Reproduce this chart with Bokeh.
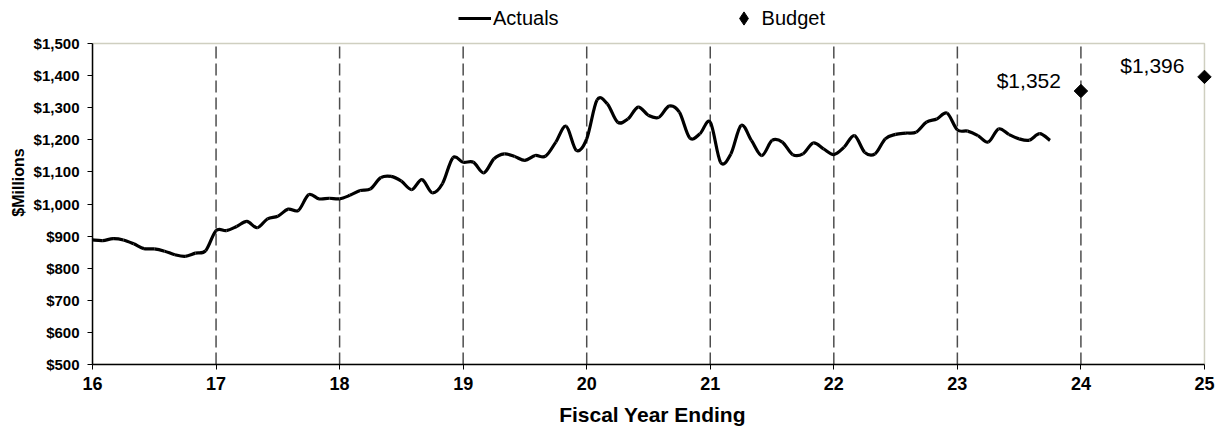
import math
from bokeh.plotting import figure
from bokeh.models import (ColumnDataSource, FixedTicker, NumeralTickFormatter, Range1d,
                          Legend, LegendItem, BoxAnnotation)
from bokeh.core.properties import value
from bokeh.embed import file_html
from bokeh.resources import INLINE

# ---------------- data ----------------
start_year = 16
actuals = [888, 886, 892, 888, 876, 861, 860, 853, 842, 837, 847, 855,
           917, 917, 930, 946, 926, 954, 962, 984, 980, 1029, 1016, 1018,
           1016, 1027, 1042, 1047, 1082, 1086, 1071, 1045, 1076, 1035, 1064, 1144,
           1130, 1130, 1097, 1141, 1156, 1148, 1136, 1151, 1149, 1193, 1242, 1167,
           1203, 1324, 1312, 1255, 1265, 1302, 1276, 1270, 1305, 1286, 1206, 1219,
           1255, 1130, 1156, 1245, 1198, 1151, 1198, 1193, 1154, 1156, 1190, 1172,
           1154, 1177, 1213, 1161, 1156, 1203, 1217, 1221, 1224, 1255, 1265, 1283,
           1231, 1227, 1213, 1193, 1234, 1217, 1203, 1199, 1219, 1198]
budget_years = [24, 25]
budget_values = [1352, 1396]
year_ticks = [16, 17, 18, 19, 20, 21, 22, 23, 24, 25]
y_ticks = [500, 600, 700, 800, 900, 1000, 1100, 1200, 1300, 1400, 1500]

FONT = "Liberation Sans"
x_lo, x_hi = year_ticks[0], year_ticks[-1]
y_lo, y_hi = y_ticks[0], y_ticks[-1]

months_x = [start_year + i / 12 for i in range(len(actuals))]

# smooth (Excel-style) curve through the monthly points, as cubic Bezier segments
n = len(actuals)
def pt(i):
    i = max(0, min(n - 1, i))
    return months_x[i], actuals[i]
bz = dict(x0=[], y0=[], x1=[], y1=[], cx0=[], cy0=[], cx1=[], cy1=[])
for i in range(n - 1):
    (xa, ya), (xb, yb) = pt(i), pt(i + 1)
    (xp, yp), (xn, yn) = pt(i - 1), pt(i + 2)
    bz["x0"].append(xa); bz["y0"].append(ya)
    bz["x1"].append(xb); bz["y1"].append(yb)
    bz["cx0"].append(xa + (xb - xp) / 6); bz["cy0"].append(ya + (yb - yp) / 6)
    bz["cx1"].append(xb - (xn - xa) / 6); bz["cy1"].append(yb - (yn - ya) / 6)

# frame is a little larger than the data box so the legend and end marker fit
p = figure(width=1216, height=430, output_backend="svg", toolbar_location=None,
           title_location=None,
           x_range=Range1d(x_lo, 25.065), y_range=Range1d(y_lo, 1634),
           min_border_left=92, min_border_right=4, min_border_top=0, min_border_bottom=66)

p.background_fill_color = "white"
p.border_fill_color = "white"
p.outline_line_color = None
p.xgrid.grid_line_color = None
p.ygrid.grid_line_color = None

# plot-area border
p.add_layout(BoxAnnotation(left=x_lo, right=x_hi, bottom=y_lo, top=y_hi,
                           fill_alpha=0, line_color="#5f5f2f", line_width=1.5,
                           level="underlay"))

# vertical dashed year lines
grid_years = year_ticks[1:-1]
p.segment(x0=grid_years, y0=[y_lo] * len(grid_years), x1=grid_years,
          y1=[y_hi] * len(grid_years), line_color="#4d4d4d", line_width=1.5,
          line_dash="12 5")

# axes
p.xaxis.ticker = FixedTicker(ticks=year_ticks)
p.yaxis.ticker = FixedTicker(ticks=y_ticks)
p.xaxis.bounds = (x_lo, x_hi)
p.yaxis.bounds = (y_lo, y_hi)
p.yaxis.formatter = NumeralTickFormatter(format="$0,0")
for ax in (p.xaxis[0], p.yaxis[0]):
    ax.axis_line_color = "black"
    ax.axis_line_width = 1.5
    ax.major_tick_line_color = "black"
    ax.major_tick_in = 0
    ax.major_tick_out = 5
    ax.minor_tick_line_color = None
    ax.major_label_text_font = FONT
    ax.major_label_text_font_style = "bold"
    ax.major_label_text_color = "black"
    ax.axis_label_text_font = FONT
    ax.axis_label_text_font_style = "bold"
    ax.axis_label_text_color = "black"
p.xaxis.major_label_text_font_size = "18px"
p.xaxis.major_label_standoff = 7
p.yaxis.major_label_text_font_size = "15px"
p.yaxis.major_label_standoff = 8
p.xaxis.axis_label = "Fiscal Year Ending"
p.xaxis.axis_label_text_font_size = "21px"
p.xaxis.axis_label_standoff = 10
p.yaxis.axis_label = "$Millions"
p.yaxis.axis_label_text_font_size = "16px"
p.yaxis.axis_label_standoff = 4

# actuals line
act_r = p.bezier(x0="x0", y0="y0", x1="x1", y1="y1", cx0="cx0", cy0="cy0",
                 cx1="cx1", cy1="cy1", source=ColumnDataSource(bz),
                 line_color="black", line_width=3.2)

# budget
bsrc = ColumnDataSource(dict(x=budget_years, y=budget_values,
                             label=[f"${v:,}" for v in budget_values]))
p.scatter("x", "y", source=bsrc, marker="square", angle=math.pi / 4, size=9.5,
          fill_color="black", line_color="black")
budget_key = p.scatter("x", "y", source=bsrc, marker="diamond", size=13,
                       fill_color="black", line_color="black", visible=False)
p.text("x", "y", text="label", source=bsrc, text_align="right", text_baseline="middle",
       x_offset=-20, y_offset=-11, text_font=value(FONT), text_font_size="21px",
       text_color="black")

legend = Legend(items=[LegendItem(label="Actuals", renderers=[act_r]),
                       LegendItem(label="Budget", renderers=[budget_key])],
                orientation="horizontal", location=(366, 329),
                label_text_font=FONT, label_text_font_size="20px",
                label_text_color="black", spacing=168, glyph_width=33, glyph_height=34,
                label_standoff=2, border_line_color=None,
                background_fill_alpha=0, padding=0, margin=0)
p.add_layout(legend)

open("out.html", "w").write(file_html(p, INLINE))
